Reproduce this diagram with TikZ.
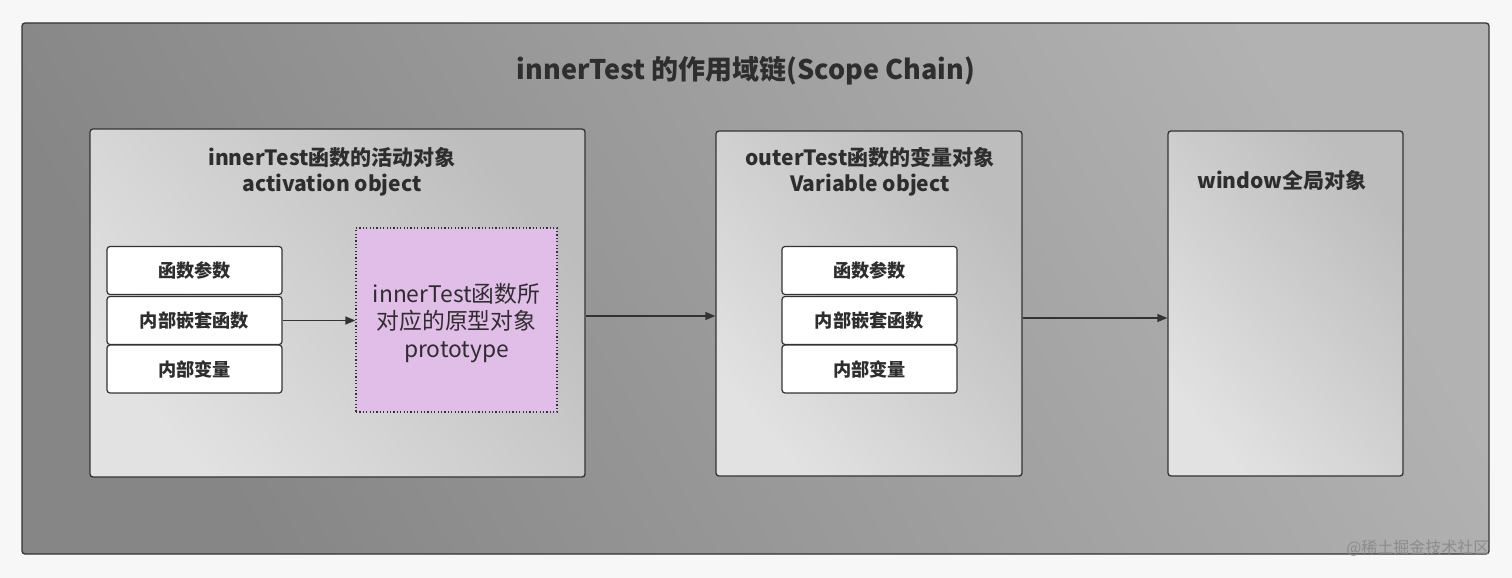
\documentclass[tikz,border=0pt]{standalone}
\usepackage{fontspec}
\setmainfont{Noto Sans CJK SC}
\usetikzlibrary{arrows.meta}
\definecolor{bgc}{HTML}{F7F7F7}
\definecolor{txt}{HTML}{2E2E2E}
\definecolor{edge}{HTML}{333333}
\definecolor{outA}{HTML}{868686}
\definecolor{outB}{HTML}{B2B2B2}
\definecolor{inA}{HTML}{E2E2E2}
\definecolor{inB}{HTML}{BDBDBD}
\definecolor{pinkc}{HTML}{E1BEE7}
\begin{document}
\begin{tikzpicture}[x=1pt,y=-1pt,
  outerbox/.style={draw=edge,line width=1.3pt,rounded corners=3pt,left color=outA,right color=outB,shading angle=120,minimum width=1467pt,minimum height=531pt,inner sep=0pt},
  scopebox/.style={draw=edge,line width=1.3pt,rounded corners=3pt,left color=inA,right color=inB,shading angle=130,inner sep=0pt},
  itembox/.style={draw=edge,line width=1.2pt,rounded corners=3pt,fill=white,minimum width=175pt,minimum height=48pt,inner sep=0pt,font=\fontsize{18.2}{20}\selectfont\bfseries,text=txt},
  protobox/.style={draw=edge,line width=1.2pt,dash pattern=on 1.2pt off 2.2pt,fill=pinkc,minimum width=201pt,minimum height=184pt,inner sep=0pt},
  prototext/.style={align=center,font=\fontsize{22.8}{27.5}\selectfont,text=txt,inner sep=0pt},
  boxtitle/.style={align=center,font=\fontsize{21}{26}\selectfont\bfseries,text=txt,inner sep=0pt},
  conn/.style={draw=edge,line width=1.3pt,-{Triangle[length=10pt,width=8pt]}}
]
\useasboundingbox (0,0) rectangle (1512,578);
\fill[bgc] (0,0) rectangle (1512,578);
\node[outerbox] (outer) at (755.5,288.5) {};
\node[font=\fontsize{27}{30}\selectfont\bfseries,text=txt] (title) at (746,71) {innerTest 的作用域链(Scope Chain)};

\node[scopebox,minimum width=495pt,minimum height=348pt] (box1) at (337.5,303) {};
\node[scopebox,minimum width=306pt,minimum height=345pt] (box2) at (869,303.5) {};
\node[scopebox,minimum width=235pt,minimum height=345pt] (box3) at (1285.5,303.5) {};

\node[boxtitle] (t1) at (332,172) {innerTest函数的活动对象\\activation object};
\node[boxtitle] (t2) at (870,172) {outerTest函数的变量对象\\Variable object};
\node[boxtitle] (t3) at (1282,180) {window全局对象};

\node[itembox] (a1) at (194.5,270.5) {函数参数};
\node[itembox] (a2) at (194.5,320.5) {内部嵌套函数};
\node[itembox] (a3) at (194.5,369) {内部变量};

\node[protobox] (proto) at (456.5,320) {};
\node[prototext] (protolabel) at (456.5,323) {innerTest函数所\\对应的原型对象\\prototype};

\node[itembox] (b1) at (869.5,270.5) {函数参数};
\node[itembox] (b2) at (869.5,320.5) {内部嵌套函数};
\node[itembox] (b3) at (869.5,369) {内部变量};

\draw[conn] (a2.east) -- (proto.west |- a2.east);
\draw[conn] ([yshift=-13pt]box1.east) -- ([yshift=-12.5pt]box2.west);
\draw[conn] ([yshift=-14.5pt]box2.east) -- ([yshift=-14.5pt]box3.west);

\node[font=\fontsize{16}{18}\selectfont,text=black!45,anchor=east] (wm) at (1493,548) {@稀土掘金技术社区};
\end{tikzpicture}
\end{document}
